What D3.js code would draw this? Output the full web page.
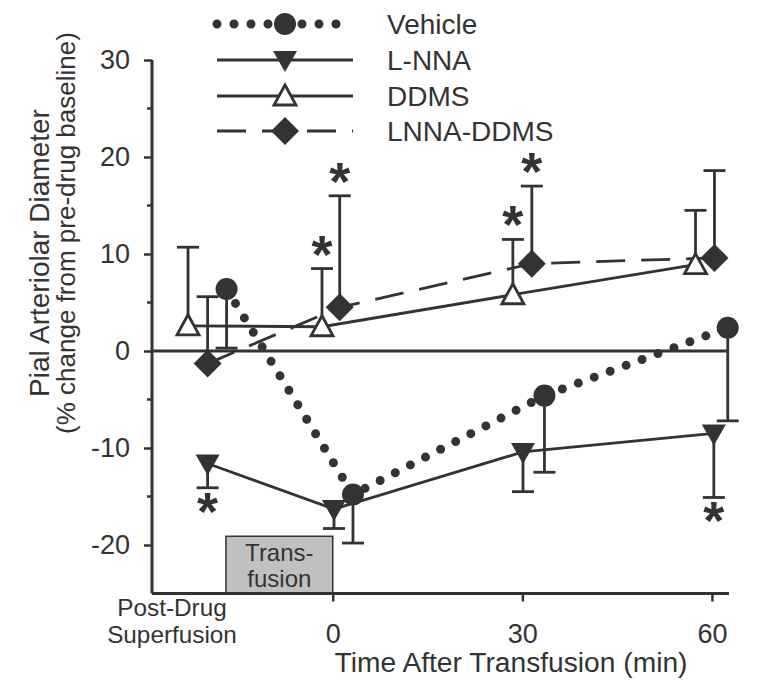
<!DOCTYPE html>
<html>
<head>
<meta charset="utf-8">
<script src="https://cdn.jsdelivr.net/npm/d3@7/dist/d3.min.js"></script>
<style>
  html, body { margin: 0; padding: 0; background: #fff; }
  svg { display: block; }
  text { font-family: "Liberation Sans", Arial, Helvetica, sans-serif; fill: #333; }
</style>
</head>
<body>
<svg id="chart" width="768" height="687"></svg>
<script>
// ---------------- data ----------------
const seriesNames = ["Vehicle", "L-NNA", "DDMS", "LNNA-DDMS"];
const xTickValues = [0, 30, 60];
const xTickLabels = ["0", "30", "60"];
const postDrugLabel = ["Post-Drug", "Superfusion"];
const yTickValues = [-20, -10, 0, 10, 20, 30];
const yTickLabels = ["-20", "-10", "0", "10", "20", "30"];
const yMinorTicks = [-15, -5, 5, 15, 25];

// plotted x position (min; the first point is the post-drug superfusion reading)
const vehicleX = [-16.8, 3.2, 33.5, 62.5];
const vehicleY = [6.4, -14.8, -4.6, 2.4];
const vehicleErr = [-6.1, -5.0, -7.9, -9.6];      // negative = bar drawn downward

const lnnaX = [-19.8, 0.2, 30.1, 60.3];
const lnnaY = [-11.6, -16.3, -10.4, -8.5];
const lnnaErr = [-2.5, -2.0, -4.1, -6.6];
const lnnaStar = [true, false, false, true];

const ddmsX = [-22.9, -1.7, 28.5, 57.4];
const ddmsY = [2.6, 2.5, 5.8, 8.9];
const ddmsErr = [8.1, 6.0, 5.7, 5.6];
const ddmsStar = [false, true, true, false];

const lddX = [-19.8, 1.1, 31.5, 60.4];
const lddY = [-1.3, 4.5, 9.0, 9.6];
const lddErr = [6.9, 11.5, 8.0, 9.0];
const lddStar = [false, true, true, false];

const transfusionX = [-16.9, 0];
const transfusionTop = -19.1;

// ---------------- layout ----------------
const ink = "#333";
const svg = d3.select("#chart");
const x = d3.scaleLinear().domain([-28.6, 62.7]).range([152, 729]);
const y = d3.scaleLinear().domain([-25, 30]).range([593.5, 60]);

const series = [
  { name: seriesNames[0], xs: vehicleX, ys: vehicleY, err: vehicleErr, star: [false,false,false,false], marker: "circle", line: "dot" },
  { name: seriesNames[1], xs: lnnaX, ys: lnnaY, err: lnnaErr, star: lnnaStar, marker: "tridown", line: "solid" },
  { name: seriesNames[2], xs: ddmsX, ys: ddmsY, err: ddmsErr, star: ddmsStar, marker: "triup", line: "solid" },
  { name: seriesNames[3], xs: lddX, ys: lddY, err: lddErr, star: lddStar, marker: "diamond", line: "dash" }
];

const LW = 2.8;
function lineStyle(sel, kind) {
  sel.attr("fill", "none").attr("stroke", ink);
  if (kind === "dot") {
    sel.attr("stroke-width", 9).attr("stroke-linecap", "round").attr("stroke-dasharray", "0 17");
  } else if (kind === "dash") {
    sel.attr("stroke-width", LW).attr("stroke-dasharray", "29 16");
  } else {
    sel.attr("stroke-width", LW);
  }
}

function drawMarker(g, kind, cx, cy) {
  if (kind === "circle") {
    g.append("circle").attr("cx", cx).attr("cy", cy).attr("r", 11).attr("fill", ink);
  } else if (kind === "tridown") {
    g.append("path").attr("d", `M${cx-12},${cy-9} L${cx+12},${cy-9} L${cx},${cy+12} Z`).attr("fill", ink);
  } else if (kind === "triup") {
    g.append("path").attr("d", `M${cx},${cy-11} L${cx+11},${cy+9} L${cx-11},${cy+9} Z`)
      .attr("fill", "#fff").attr("stroke", ink).attr("stroke-width", LW);
  } else if (kind === "diamond") {
    g.append("path").attr("d", `M${cx},${cy-14} L${cx+14},${cy} L${cx},${cy+14} L${cx-14},${cy} Z`).attr("fill", ink);
  }
}

// transfusion box
svg.append("rect")
  .attr("x", x(transfusionX[0])).attr("y", y(transfusionTop))
  .attr("width", x(transfusionX[1]) - x(transfusionX[0]))
  .attr("height", y(-25) - y(transfusionTop))
  .attr("fill", "#c0c0c0").attr("stroke", ink).attr("stroke-width", 1.5);
const tbx = (x(transfusionX[0]) + x(transfusionX[1])) / 2;
svg.append("text").attr("x", tbx).attr("y", 561).attr("text-anchor", "middle").attr("font-size", 24).text("Trans-");
svg.append("text").attr("x", tbx).attr("y", 587).attr("text-anchor", "middle").attr("font-size", 24).text("fusion");

// zero line
svg.append("line").attr("x1", x(-28.6)).attr("x2", x(62.5)).attr("y1", y(0)).attr("y2", y(0))
  .attr("stroke", ink).attr("stroke-width", LW);

// axes
const yAxis = d3.axisLeft(y).tickValues(yTickValues).tickSize(8).tickPadding(14)
  .tickFormat((d, i) => yTickLabels[i]);
const gy = svg.append("g").attr("transform", `translate(${x(-28.6)},0)`).call(yAxis);
gy.select(".domain").attr("stroke", ink).attr("stroke-width", 3).attr("d", `M0,${y(30)}V${y(-25)}`);
gy.selectAll(".tick line").attr("stroke", ink).attr("stroke-width", 2.5);
gy.selectAll(".tick text").attr("font-size", 27).attr("fill", ink).attr("font-family", "Liberation Sans, Arial, sans-serif");
gy.selectAll(".minor").data(yMinorTicks).enter().append("line").attr("class", "minor")
  .attr("x1", -5).attr("x2", 0).attr("y1", d => y(d)).attr("y2", d => y(d))
  .attr("stroke", ink).attr("stroke-width", 2.5);

const xAxis = d3.axisBottom(x).tickValues(xTickValues).tickSize(8).tickPadding(22)
  .tickFormat((d, i) => xTickLabels[i]);
const gx = svg.append("g").attr("transform", `translate(0,${y(-25)})`).call(xAxis);
gx.select(".domain").attr("stroke", ink).attr("stroke-width", 3).attr("d", `M${x(-28.6)},0H${x(62.7)}`);
gx.selectAll(".tick line").attr("stroke", ink).attr("stroke-width", 2.5);
gx.selectAll(".tick text").attr("font-size", 27).attr("fill", ink).attr("font-family", "Liberation Sans, Arial, sans-serif");

postDrugLabel.forEach((t, i) => {
  svg.append("text").attr("x", 172).attr("y", 616 + i * 27).attr("text-anchor", "middle")
    .attr("font-size", 24.3).text(t);
});

svg.append("text").attr("x", 511).attr("y", 672).attr("text-anchor", "middle")
  .attr("font-size", 28.2).text("Time After Transfusion (min)");

const yl1 = svg.append("g").attr("transform", "translate(0,253) rotate(-90)");
yl1.append("text").attr("x", 0).attr("y", 49).attr("text-anchor", "middle").attr("font-size", 28).text("Pial Arteriolar Diameter");
const yl2 = svg.append("g").attr("transform", "translate(0,233) rotate(-90)");
yl2.append("text").attr("x", 0).attr("y", 75).attr("text-anchor", "middle").attr("font-size", 26).text("(% change from pre-drug baseline)");

// series lines
const lineGen = d3.line().x(d => x(d[0])).y(d => y(d[1]));
series.forEach(s => {
  const pts = s.xs.map((v, i) => [v, s.ys[i]]);
  svg.append("path").attr("d", lineGen(pts)).call(lineStyle, s.line);
});

// error bars + stars
series.forEach(s => {
  s.xs.forEach((xv, i) => {
    const cx = x(xv), y0 = y(s.ys[i]), y1 = y(s.ys[i] + s.err[i]);
    svg.append("line").attr("x1", cx).attr("x2", cx).attr("y1", y0).attr("y2", y1).attr("stroke", ink).attr("stroke-width", LW);
    svg.append("line").attr("x1", cx - 11).attr("x2", cx + 11).attr("y1", y1).attr("y2", y1).attr("stroke", ink).attr("stroke-width", LW);
    if (s.star[i]) {
      const up = s.err[i] > 0;
      svg.append("text").attr("x", cx).attr("y", up ? y1 + 4 : y1 + 42)
        .attr("text-anchor", "middle").attr("font-size", 54).attr("font-weight", "bold").text("*");
    }
  });
});

// markers
series.forEach(s => {
  const g = svg.append("g");
  s.xs.forEach((xv, i) => drawMarker(g, s.marker, x(xv), y(s.ys[i])));
});

// legend
const legendY = [24, 60, 96, 131];
series.forEach((s, i) => {
  const ly = legendY[i];
  svg.append("path").attr("d", `M217,${ly}H353`).call(lineStyle, s.line);
  drawMarker(svg.append("g"), s.marker, 285, ly);
  svg.append("text").attr("x", 387).attr("y", ly).attr("dy", "0.35em").attr("font-size", 28).text(s.name);
});
</script>
</body>
</html>
